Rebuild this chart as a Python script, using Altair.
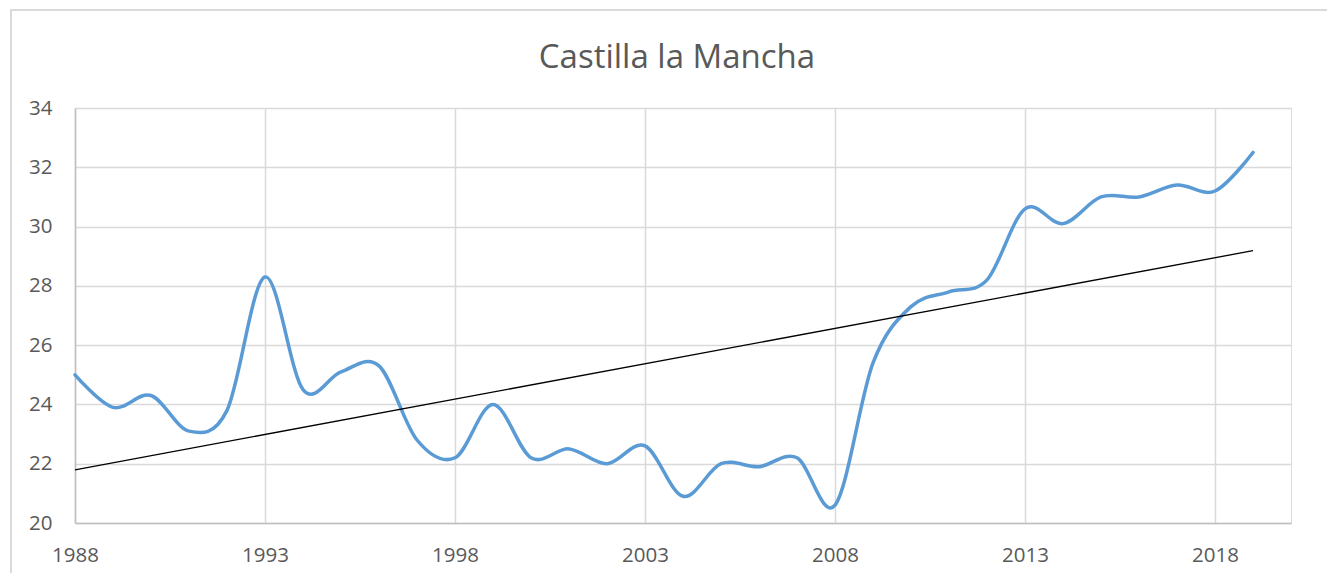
import altair as alt
import pandas as pd

years = list(range(1988, 2020))
values = [25.0, 23.9, 24.3, 23.1, 23.8, 28.3, 24.5, 25.1, 25.3, 22.8,
          22.2, 24.0, 22.2, 22.5, 22.0, 22.6, 20.9, 22.0, 21.9, 22.2,
          20.6, 25.4, 27.3, 27.8, 28.2, 30.6, 30.1, 31.0, 31.0, 31.4,
          31.2, 32.5]
x_ticks = [1988, 1993, 1998, 2003, 2008, 2013, 2018]
y_ticks = [20, 22, 24, 26, 28, 30, 32, 34]
title_text = "Castilla la Mancha"

df = pd.DataFrame({"year": years, "value": values})

FONT = "Open Sans"
TEXT = "#595959"
GRID = "#d9d9d9"

x_enc = alt.X("year:Q", scale=alt.Scale(domain=[1988, 2020], nice=False, zero=False),
              axis=alt.Axis(values=x_ticks, format="d", title=None, labelFont=FONT,
                            labelFontSize=20.5, labelColor=TEXT, labelPadding=22,
                            ticks=False, grid=True, gridColor=GRID, gridWidth=1.5,
                            domainColor="#bfbfbf", domainWidth=1.5, labelFlush=False))
y_enc = alt.Y("value:Q", scale=alt.Scale(domain=[20, 34], nice=False, zero=False),
              axis=alt.Axis(values=y_ticks, title=None, labelFont=FONT,
                            labelFontSize=20.5, labelColor=TEXT, labelPadding=23,
                            ticks=False, grid=True, gridColor=GRID, gridWidth=1.5,
                            domainColor="#bfbfbf", domainWidth=1.5))

base = alt.Chart(df)

line = base.mark_line(color="#5b9bd5", strokeWidth=3.5, interpolate="cardinal",
                      tension=0, strokeCap="round").encode(x=x_enc, y=y_enc)

trend = base.transform_regression("year", "value", extent=[1988, 2019]).mark_line(
    color="black", strokeWidth=1.3).encode(x="year:Q", y="value:Q")

frame = alt.Chart(alt.Data(values=[{}])).mark_rect(
    fillOpacity=0, stroke=GRID, strokeWidth=2, clip=False).encode(
    x=alt.value(-64), x2=alt.value(1300), y=alt.value(-98), y2=alt.value(520))

chart = alt.layer(frame, line, trend).properties(
    width=1216, height=415,
    title=alt.TitleParams(title_text, font=FONT, fontSize=33, fontWeight="normal",
                          color=TEXT, anchor="middle", baseline="alphabetic",
                          offset=-92, dx=-6),
    padding={"left": 67, "top": 100, "right": 36, "bottom": 50},
    autosize=alt.AutoSizeParams(type="none"),
).configure_view(stroke=None).configure(background="white")

chart.save("out.html", embed_options={"renderer": "svg", "actions": False})
